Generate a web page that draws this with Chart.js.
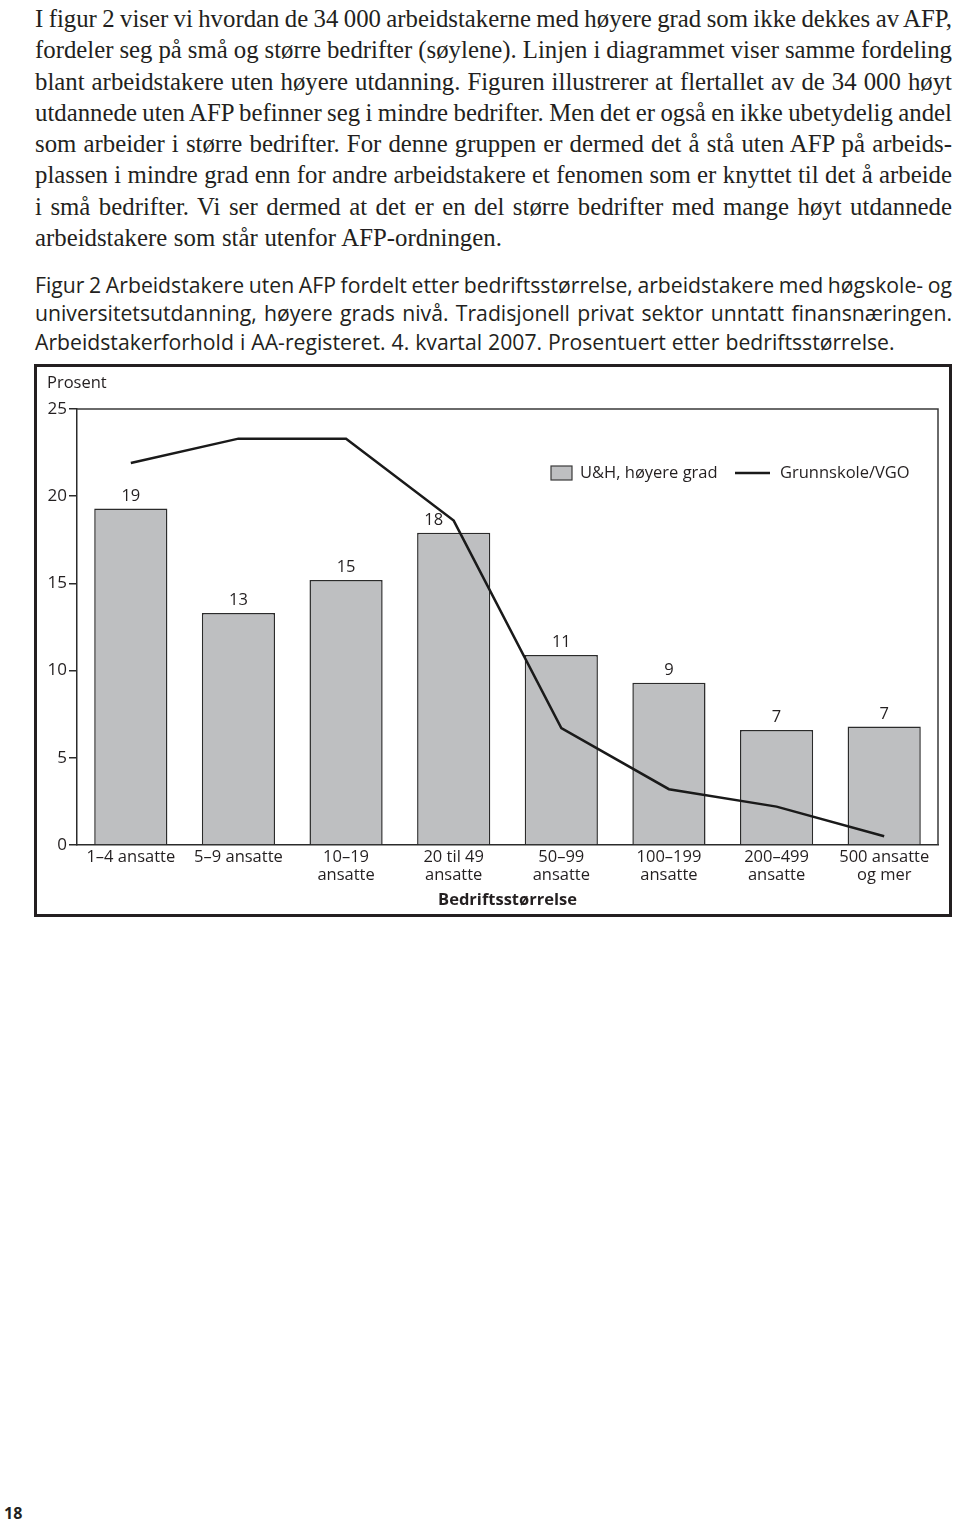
<!DOCTYPE html>
<html lang="no">
<head>
<meta charset="utf-8">
<script src="https://cdn.jsdelivr.net/npm/chart.js@4.4.1/dist/chart.umd.min.js"></script>
<style>
  body { margin: 0; background: #fff; }
  #side { position: relative; width: 960px; height: 1524px; overflow: hidden; color: #231f20; }
  .brodtekst { position: absolute; left: 35px; top: 3px; width: 917px;
    font-family: "Liberation Serif", serif; font-size: 24.8px; line-height: 31.3px; word-spacing: -1.6px; }
  .brodtekst div, .figurtekst div { white-space: nowrap; text-align: justify; text-align-last: justify; }
  .brodtekst div.siste, .figurtekst div.siste { text-align-last: left; word-spacing: 0.5px; }
  .figurtekst { position: absolute; left: 35px; top: 271px; width: 917px;
    font-family: "Open Sans", sans-serif; font-size: 21.2px; line-height: 28.3px; word-spacing: -1.2px; }
  #ramme { position: absolute; left: 34px; top: 364px; width: 918px; height: 553px;
    border: 3px solid #231f20; box-sizing: border-box; }
  #figur2 { position: absolute; left: 36px; top: 366px; }
  .sidetall { position: absolute; left: 4px; top: 1502px; font-family: "Open Sans", sans-serif;
    font-weight: bold; font-size: 16px; }
</style>
</head>
<body>
<div id="side">
  <div class="brodtekst">
    <div>I figur 2 viser vi hvordan de 34 000 arbeidstakerne med høyere grad som ikke dekkes av AFP,</div>
    <div>fordeler seg på små og større bedrifter (søylene). Linjen i diagrammet viser samme fordeling</div>
    <div>blant arbeidstakere uten høyere utdanning. Figuren illustrerer at flertallet av de 34 000 høyt</div>
    <div>utdannede uten AFP befinner seg i mindre bedrifter. Men det er også en ikke ubetydelig andel</div>
    <div>som arbeider i større bedrifter. For denne gruppen er dermed det å stå uten AFP på arbeids-</div>
    <div>plassen i mindre grad enn for andre arbeidstakere et fenomen som er knyttet til det å arbeide</div>
    <div>i små bedrifter. Vi ser dermed at det er en del større bedrifter med mange høyt utdannede</div>
    <div class="siste">arbeidstakere som står utenfor AFP-ordningen.</div>
  </div>
  <div class="figurtekst">
    <div>Figur 2 Arbeidstakere uten AFP fordelt etter bedriftsstørrelse, arbeidstakere med høgskole- og</div>
    <div>universitetsutdanning, høyere grads nivå. Tradisjonell privat sektor unntatt finansnæringen.</div>
    <div class="siste">Arbeidstakerforhold i AA-registeret. 4. kvartal 2007. Prosentuert etter bedriftsstørrelse.</div>
  </div>
  <div id="ramme"></div>
  <canvas id="figur2" width="915" height="550"></canvas>
  <div class="sidetall">18</div>
</div>
<script>
// verdier lest av figuren
const kategorier = [
  ['1–4 ansatte'], ['5–9 ansatte'], ['10–19', 'ansatte'], ['20 til 49', 'ansatte'],
  ['50–99', 'ansatte'], ['100–199', 'ansatte'], ['200–499', 'ansatte'], ['500 ansatte', 'og mer']
];
const hoyereGrad = [19.3, 13.3, 15.2, 17.9, 10.9, 9.3, 6.6, 6.8];
const hoyereGradEtiketter = ['19', '13', '15', '18', '11', '9', '7', '7'];
const grunnskoleVgo = [21.9, 23.3, 23.3, 18.6, 6.7, 3.2, 2.2, 0.5];
const yTikker = [0, 5, 10, 15, 20, 25];

const tekstfarge = '#231f20';
const font = 'Open Sans';

// ramme rundt plottet, "Prosent", tegnforklaring og tall over søylene
const ekstraTegning = {
    id: 'ekstraTegning',
    afterDraw(chart) {
        const ctx = chart.ctx;
        const a = chart.chartArea;
        ctx.save();
        ctx.strokeStyle = '#3a3a3a';
        ctx.lineWidth = 1.5;
        ctx.beginPath();
        ctx.moveTo(a.left, a.top);
        ctx.lineTo(a.right, a.top);
        ctx.lineTo(a.right, a.bottom);
        ctx.stroke();

        ctx.fillStyle = tekstfarge;
        ctx.font = '16.5px "' + font + '"';
        ctx.textBaseline = 'middle';
        ctx.textAlign = 'left';
        ctx.fillText('Prosent', 11, 17);

        // tall over søylene
        const meta = chart.getDatasetMeta(1);
        ctx.textAlign = 'center';
        meta.data.forEach((bar, i) => {
            const dx = i === 3 ? -20 : 0;
            ctx.fillText(hoyereGradEtiketter[i], bar.x + dx, bar.y - 12.5);
        });

        // tegnforklaring
        const lx = 515, ly = 107;
        ctx.fillStyle = '#bebfc1';
        ctx.fillRect(lx, ly - 7, 21, 14);
        ctx.strokeStyle = '#3a3a3a';
        ctx.lineWidth = 1.2;
        ctx.strokeRect(lx, ly - 7, 21, 14);
        ctx.fillStyle = tekstfarge;
        ctx.textAlign = 'left';
        ctx.fillText(chart.data.datasets[1].label, lx + 29, ly);
        ctx.strokeStyle = '#1a1a1a';
        ctx.lineWidth = 2.5;
        ctx.beginPath();
        ctx.moveTo(699, ly);
        ctx.lineTo(734, ly);
        ctx.stroke();
        ctx.fillText(chart.data.datasets[0].label, 744, ly);
        ctx.restore();
    }
};

const figur = new Chart(document.getElementById('figur2'), {
    data: {
        labels: kategorier,
        datasets: [
            {
                type: 'line',
                label: 'Grunnskole/VGO',
                data: grunnskoleVgo,
                borderColor: '#1a1a1a',
                borderWidth: 2.5,
                pointRadius: 0,
                tension: 0,
                order: 0
            },
            {
                type: 'bar',
                label: 'U&H, høyere grad',
                data: hoyereGrad,
                backgroundColor: '#bebfc1',
                borderColor: '#2b2b2b',
                borderWidth: 1.5,
                barPercentage: 0.68,
                categoryPercentage: 1,
                order: 1
            }
        ]
    },
    options: {
        responsive: false,
        animation: false,
        devicePixelRatio: 1,
        layout: { padding: { left: 0, top: 43, right: 13, bottom: 0 } },
        plugins: {
            legend: { display: false },
            tooltip: { enabled: false }
        },
        scales: {
            x: {
                grid: { drawOnChartArea: false, drawTicks: false },
                border: { color: '#2b2b2b', width: 1.5 },
                ticks: {
                    color: tekstfarge,
                    font: { family: font, size: 16.5, lineHeight: 1.1 },
                    padding: 3,
                    maxRotation: 0,
                    autoSkip: false
                },
                title: {
                    display: true,
                    text: 'Bedriftsstørrelse',
                    color: tekstfarge,
                    font: { family: font, size: 16.5, weight: 'bold' },
                    padding: { top: 0, bottom: 6 }
                },
                afterFit: (s) => { s.height = 71; }
            },
            y: {
                min: 0,
                max: 25,
                afterBuildTicks: (s) => { s.ticks = yTikker.map(v => ({ value: v })); },
                grid: { drawOnChartArea: false, drawTicks: true, tickLength: 8, color: '#2b2b2b', lineWidth: 1.5 },
                border: { color: '#2b2b2b', width: 1.5 },
                ticks: {
                    color: tekstfarge,
                    font: { family: font, size: 17 },
                    padding: 2
                },
                afterFit: (s) => { s.width = 41; }
            }
        }
    },
    plugins: [ekstraTegning]
});
</script>
</body>
</html>
